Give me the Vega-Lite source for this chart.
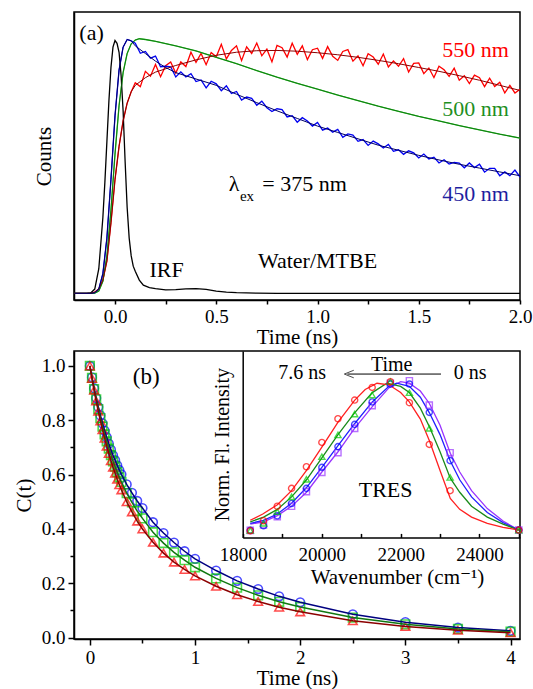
{
"$schema":"https://vega.github.io/schema/vega-lite/v6.json",
"background":"white",
"padding":{"left":12,"top":11,"right":0,"bottom":0},
"spacing":2,
"config":{
 "font":"Liberation Serif, Times New Roman, DejaVu Serif, serif",
 "view":{"stroke":"black","strokeWidth":1.5},
 "axis":{"labelFont":"Liberation Serif, Times New Roman, DejaVu Serif, serif","titleFont":"Liberation Serif, Times New Roman, DejaVu Serif, serif","labelFontSize":19,"titleFontSize":21,"titleFontWeight":"normal","labelColor":"black","titleColor":"black","domainColor":"black","domainWidth":1.5,"tickColor":"black","tickWidth":1.5,"grid":false,"labelPadding":3,"labelFlush":false,"labelOverlap":false},
 "text":{"font":"Liberation Serif, Times New Roman, DejaVu Serif, serif"}
},
"datasets":{
"a":[
{"s":"550","t":-0.2,"y":0.003},{"s":"550","t":-0.12,"y":0.003},{"s":"550","t":-0.1,"y":0.008},{"s":"550","t":-0.08,"y":0.02},{"s":"550","t":-0.06,"y":0.055},{"s":"550","t":-0.04,"y":0.13},{"s":"550","t":-0.02,"y":0.28},{"s":"550","t":0,"y":0.45},{"s":"550","t":0.02,"y":0.58},{"s":"550","t":0.04,"y":0.68},{"s":"550","t":0.06,"y":0.75},{"s":"550","t":0.08,"y":0.795},
{"s":"550","t":0.1,"y":0.83},{"s":"550","t":0.125,"y":0.815},{"s":"550","t":0.15,"y":0.875},{"s":"550","t":0.175,"y":0.856},{"s":"550","t":0.2,"y":0.902},{"s":"550","t":0.225,"y":0.854},{"s":"550","t":0.25,"y":0.897},{"s":"550","t":0.275,"y":0.912},{"s":"550","t":0.3,"y":0.868},{"s":"550","t":0.325,"y":0.912},{"s":"550","t":0.35,"y":0.894},{"s":"550","t":0.375,"y":0.95},{"s":"550","t":0.4,"y":0.91},{"s":"550","t":0.425,"y":0.945},{"s":"550","t":0.45,"y":0.901},{"s":"550","t":0.475,"y":0.949},{"s":"550","t":0.5,"y":0.932},{"s":"550","t":0.525,"y":0.981},{"s":"550","t":0.55,"y":0.924},{"s":"550","t":0.575,"y":0.957},{"s":"550","t":0.6,"y":0.975},{"s":"550","t":0.625,"y":0.917},{"s":"550","t":0.65,"y":0.971},{"s":"550","t":0.675,"y":0.945},{"s":"550","t":0.7,"y":0.986},{"s":"550","t":0.725,"y":0.936},{"s":"550","t":0.75,"y":0.962},{"s":"550","t":0.775,"y":0.912},{"s":"550","t":0.8,"y":0.977},{"s":"550","t":0.825,"y":0.968},{"s":"550","t":0.85,"y":0.931},{"s":"550","t":0.875,"y":0.985},{"s":"550","t":0.9,"y":0.942},{"s":"550","t":0.925,"y":0.975},{"s":"550","t":0.95,"y":0.921},{"s":"550","t":0.975,"y":0.96},{"s":"550","t":1.0,"y":0.966},{"s":"550","t":1.025,"y":0.926},{"s":"550","t":1.05,"y":0.972},{"s":"550","t":1.075,"y":0.934},{"s":"550","t":1.1,"y":0.918},{"s":"550","t":1.125,"y":0.953},{"s":"550","t":1.15,"y":0.96},{"s":"550","t":1.175,"y":0.915},{"s":"550","t":1.2,"y":0.936},{"s":"550","t":1.225,"y":0.897},{"s":"550","t":1.25,"y":0.944},{"s":"550","t":1.275,"y":0.931},{"s":"550","t":1.3,"y":0.903},{"s":"550","t":1.325,"y":0.943},{"s":"550","t":1.35,"y":0.892},{"s":"550","t":1.375,"y":0.916},{"s":"550","t":1.4,"y":0.895},{"s":"550","t":1.425,"y":0.925},{"s":"550","t":1.45,"y":0.872},{"s":"550","t":1.475,"y":0.906},{"s":"550","t":1.5,"y":0.908},{"s":"550","t":1.525,"y":0.866},{"s":"550","t":1.55,"y":0.888},{"s":"550","t":1.575,"y":0.851},{"s":"550","t":1.6,"y":0.895},{"s":"550","t":1.625,"y":0.881},{"s":"550","t":1.65,"y":0.855},{"s":"550","t":1.675,"y":0.887},{"s":"550","t":1.7,"y":0.84},{"s":"550","t":1.725,"y":0.858},{"s":"550","t":1.75,"y":0.827},{"s":"550","t":1.775,"y":0.86},{"s":"550","t":1.8,"y":0.85},{"s":"550","t":1.825,"y":0.815},{"s":"550","t":1.85,"y":0.848},{"s":"550","t":1.875,"y":0.815},{"s":"550","t":1.9,"y":0.832},{"s":"550","t":1.925,"y":0.79},{"s":"550","t":1.95,"y":0.82},{"s":"550","t":1.975,"y":0.79},{"s":"550","t":2.0,"y":0.805},
{"s":"500","t":-0.2,"y":0.003},{"s":"500","t":-0.12,"y":0.003},{"s":"500","t":-0.1,"y":0.004},{"s":"500","t":-0.08,"y":0.012},{"s":"500","t":-0.06,"y":0.05},{"s":"500","t":-0.04,"y":0.15},{"s":"500","t":-0.02,"y":0.33},{"s":"500","t":0,"y":0.55},{"s":"500","t":0.02,"y":0.74},{"s":"500","t":0.04,"y":0.87},{"s":"500","t":0.06,"y":0.945},{"s":"500","t":0.08,"y":0.983},{"s":"500","t":0.1,"y":0.998},{"s":"500","t":0.12,"y":1.003},{"s":"500","t":0.15,"y":1.0},{"s":"500","t":0.2,"y":0.993},{"s":"500","t":0.3,"y":0.975},{"s":"500","t":0.4,"y":0.955},{"s":"500","t":0.5,"y":0.93},{"s":"500","t":0.6,"y":0.905},{"s":"500","t":0.7,"y":0.878},{"s":"500","t":0.8,"y":0.852},{"s":"500","t":0.9,"y":0.828},{"s":"500","t":1.0,"y":0.805},{"s":"500","t":1.1,"y":0.782},{"s":"500","t":1.2,"y":0.76},{"s":"500","t":1.3,"y":0.738},{"s":"500","t":1.4,"y":0.718},{"s":"500","t":1.5,"y":0.698},{"s":"500","t":1.6,"y":0.68},{"s":"500","t":1.7,"y":0.662},{"s":"500","t":1.8,"y":0.645},{"s":"500","t":1.9,"y":0.628},{"s":"500","t":2.0,"y":0.613},
{"s":"450","t":-0.2,"y":0.003},{"s":"450","t":-0.12,"y":0.003},{"s":"450","t":-0.1,"y":0.006},{"s":"450","t":-0.08,"y":0.02},{"s":"450","t":-0.06,"y":0.08},{"s":"450","t":-0.04,"y":0.22},{"s":"450","t":-0.02,"y":0.45},{"s":"450","t":0,"y":0.7},{"s":"450","t":0.02,"y":0.88},{"s":"450","t":0.04,"y":0.97},{"s":"450","t":0.06,"y":1.0},{"s":"450","t":0.08,"y":0.995},
{"s":"450","t":0.1,"y":0.985},{"s":"450","t":0.125,"y":0.946},{"s":"450","t":0.15,"y":0.953},{"s":"450","t":0.175,"y":0.927},{"s":"450","t":0.2,"y":0.935},{"s":"450","t":0.225,"y":0.893},{"s":"450","t":0.25,"y":0.895},{"s":"450","t":0.275,"y":0.893},{"s":"450","t":0.3,"y":0.853},{"s":"450","t":0.325,"y":0.873},{"s":"450","t":0.35,"y":0.853},{"s":"450","t":0.375,"y":0.866},{"s":"450","t":0.4,"y":0.835},{"s":"450","t":0.425,"y":0.841},{"s":"450","t":0.45,"y":0.81},{"s":"450","t":0.475,"y":0.836},{"s":"450","t":0.5,"y":0.826},{"s":"450","t":0.525,"y":0.799},{"s":"450","t":0.55,"y":0.818},{"s":"450","t":0.575,"y":0.788},{"s":"450","t":0.6,"y":0.796},{"s":"450","t":0.625,"y":0.762},{"s":"450","t":0.65,"y":0.774},{"s":"450","t":0.675,"y":0.769},{"s":"450","t":0.7,"y":0.742},{"s":"450","t":0.725,"y":0.758},{"s":"450","t":0.75,"y":0.732},{"s":"450","t":0.775,"y":0.717},{"s":"450","t":0.8,"y":0.728},{"s":"450","t":0.825,"y":0.725},{"s":"450","t":0.85,"y":0.696},{"s":"450","t":0.875,"y":0.701},{"s":"450","t":0.9,"y":0.675},{"s":"450","t":0.925,"y":0.693},{"s":"450","t":0.95,"y":0.68},{"s":"450","t":0.975,"y":0.66},{"s":"450","t":1.0,"y":0.674},{"s":"450","t":1.025,"y":0.644},{"s":"450","t":1.05,"y":0.652},{"s":"450","t":1.075,"y":0.636},{"s":"450","t":1.1,"y":0.647},{"s":"450","t":1.125,"y":0.616},{"s":"450","t":1.15,"y":0.629},{"s":"450","t":1.175,"y":0.625},{"s":"450","t":1.2,"y":0.6},{"s":"450","t":1.225,"y":0.607},{"s":"450","t":1.25,"y":0.584},{"s":"450","t":1.275,"y":0.601},{"s":"450","t":1.3,"y":0.59},{"s":"450","t":1.325,"y":0.574},{"s":"450","t":1.35,"y":0.588},{"s":"450","t":1.375,"y":0.561},{"s":"450","t":1.4,"y":0.567},{"s":"450","t":1.425,"y":0.549},{"s":"450","t":1.45,"y":0.563},{"s":"450","t":1.475,"y":0.555},{"s":"450","t":1.5,"y":0.535},{"s":"450","t":1.525,"y":0.55},{"s":"450","t":1.55,"y":0.531},{"s":"450","t":1.575,"y":0.538},{"s":"450","t":1.6,"y":0.515},{"s":"450","t":1.625,"y":0.528},{"s":"450","t":1.65,"y":0.511},{"s":"450","t":1.675,"y":0.517},{"s":"450","t":1.7,"y":0.515},{"s":"450","t":1.725,"y":0.496},{"s":"450","t":1.75,"y":0.515},{"s":"450","t":1.775,"y":0.497},{"s":"450","t":1.8,"y":0.51},{"s":"450","t":1.825,"y":0.479},{"s":"450","t":1.85,"y":0.494},{"s":"450","t":1.875,"y":0.494},{"s":"450","t":1.9,"y":0.465},{"s":"450","t":1.925,"y":0.48},{"s":"450","t":1.95,"y":0.465},{"s":"450","t":1.975,"y":0.487},{"s":"450","t":2.0,"y":0.46},
{"s":"IRF","t":-0.2,"y":0.003},{"s":"IRF","t":-0.14,"y":0.003},{"s":"IRF","t":-0.12,"y":0.005},{"s":"IRF","t":-0.1,"y":0.02},{"s":"IRF","t":-0.08,"y":0.1},{"s":"IRF","t":-0.06,"y":0.3},{"s":"IRF","t":-0.05,"y":0.44},{"s":"IRF","t":-0.04,"y":0.6},{"s":"IRF","t":-0.03,"y":0.76},{"s":"IRF","t":-0.02,"y":0.89},{"s":"IRF","t":-0.01,"y":0.97},{"s":"IRF","t":0,"y":0.996},{"s":"IRF","t":0.01,"y":0.985},{"s":"IRF","t":0.02,"y":0.95},{"s":"IRF","t":0.03,"y":0.86},{"s":"IRF","t":0.04,"y":0.72},{"s":"IRF","t":0.05,"y":0.52},{"s":"IRF","t":0.06,"y":0.34},{"s":"IRF","t":0.07,"y":0.22},{"s":"IRF","t":0.08,"y":0.15},{"s":"IRF","t":0.09,"y":0.11},{"s":"IRF","t":0.1,"y":0.09},{"s":"IRF","t":0.12,"y":0.055},{"s":"IRF","t":0.14,"y":0.035},{"s":"IRF","t":0.17,"y":0.026},{"s":"IRF","t":0.2,"y":0.022},{"s":"IRF","t":0.25,"y":0.017},{"s":"IRF","t":0.3,"y":0.018},{"s":"IRF","t":0.35,"y":0.021},{"s":"IRF","t":0.4,"y":0.022},{"s":"IRF","t":0.45,"y":0.019},{"s":"IRF","t":0.5,"y":0.012},{"s":"IRF","t":0.55,"y":0.008},{"s":"IRF","t":0.6,"y":0.006},{"s":"IRF","t":0.7,"y":0.004},{"s":"IRF","t":0.8,"y":0.003},{"s":"IRF","t":1.2,"y":0.003},{"s":"IRF","t":1.6,"y":0.003},{"s":"IRF","t":2.0,"y":0.003}
],
"afit":[
{"s":"f550","t":-0.2,"y":0.003},{"s":"f550","t":-0.12,"y":0.003},{"s":"f550","t":-0.1,"y":0.008},{"s":"f550","t":-0.08,"y":0.02},{"s":"f550","t":-0.06,"y":0.055},{"s":"f550","t":-0.04,"y":0.13},{"s":"f550","t":-0.02,"y":0.28},{"s":"f550","t":0,"y":0.45},{"s":"f550","t":0.02,"y":0.58},{"s":"f550","t":0.04,"y":0.68},{"s":"f550","t":0.06,"y":0.75},{"s":"f550","t":0.08,"y":0.795},{"s":"f550","t":0.1,"y":0.82},{"s":"f550","t":0.15,"y":0.85},{"s":"f550","t":0.2,"y":0.872},{"s":"f550","t":0.3,"y":0.898},{"s":"f550","t":0.4,"y":0.92},{"s":"f550","t":0.5,"y":0.938},{"s":"f550","t":0.6,"y":0.95},{"s":"f550","t":0.7,"y":0.956},{"s":"f550","t":0.8,"y":0.957},{"s":"f550","t":0.9,"y":0.954},{"s":"f550","t":1.0,"y":0.948},{"s":"f550","t":1.1,"y":0.94},{"s":"f550","t":1.2,"y":0.93},{"s":"f550","t":1.3,"y":0.918},{"s":"f550","t":1.4,"y":0.905},{"s":"f550","t":1.5,"y":0.89},{"s":"f550","t":1.6,"y":0.875},{"s":"f550","t":1.7,"y":0.858},{"s":"f550","t":1.8,"y":0.84},{"s":"f550","t":1.9,"y":0.82},{"s":"f550","t":2.0,"y":0.8},
{"s":"f450","t":-0.2,"y":0.003},{"s":"f450","t":-0.12,"y":0.003},{"s":"f450","t":-0.1,"y":0.006},{"s":"f450","t":-0.08,"y":0.02},{"s":"f450","t":-0.06,"y":0.08},{"s":"f450","t":-0.04,"y":0.22},{"s":"f450","t":-0.02,"y":0.45},{"s":"f450","t":0,"y":0.7},{"s":"f450","t":0.02,"y":0.88},{"s":"f450","t":0.04,"y":0.97},{"s":"f450","t":0.06,"y":1.0},{"s":"f450","t":0.08,"y":0.995},{"s":"f450","t":0.1,"y":0.975},{"s":"f450","t":0.15,"y":0.945},{"s":"f450","t":0.2,"y":0.915},{"s":"f450","t":0.25,"y":0.89},{"s":"f450","t":0.3,"y":0.87},{"s":"f450","t":0.4,"y":0.845},{"s":"f450","t":0.5,"y":0.82},{"s":"f450","t":0.6,"y":0.785},{"s":"f450","t":0.7,"y":0.752},{"s":"f450","t":0.8,"y":0.72},{"s":"f450","t":0.9,"y":0.69},{"s":"f450","t":1.0,"y":0.66},{"s":"f450","t":1.1,"y":0.635},{"s":"f450","t":1.2,"y":0.61},{"s":"f450","t":1.3,"y":0.585},{"s":"f450","t":1.4,"y":0.565},{"s":"f450","t":1.5,"y":0.545},{"s":"f450","t":1.6,"y":0.527},{"s":"f450","t":1.7,"y":0.51},{"s":"f450","t":1.8,"y":0.495},{"s":"f450","t":1.9,"y":0.48},{"s":"f450","t":2.0,"y":0.465}
],
"b":[
{"s":"blue","t":0,"c":1.0},{"s":"blue","t":0.02,"c":0.958},{"s":"blue","t":0.04,"c":0.918},{"s":"blue","t":0.06,"c":0.882},{"s":"blue","t":0.08,"c":0.849},{"s":"blue","t":0.1,"c":0.818},{"s":"blue","t":0.12,"c":0.789},{"s":"blue","t":0.14,"c":0.762},{"s":"blue","t":0.16,"c":0.738},{"s":"blue","t":0.18,"c":0.714},{"s":"blue","t":0.2,"c":0.692},{"s":"blue","t":0.22,"c":0.671},{"s":"blue","t":0.24,"c":0.653},{"s":"blue","t":0.26,"c":0.634},{"s":"blue","t":0.28,"c":0.617},{"s":"blue","t":0.3,"c":0.601},{"s":"blue","t":0.35,"c":0.564},{"s":"blue","t":0.4,"c":0.533},{"s":"blue","t":0.45,"c":0.503},{"s":"blue","t":0.5,"c":0.477},{"s":"blue","t":0.6,"c":0.425},{"s":"blue","t":0.7,"c":0.385},{"s":"blue","t":0.8,"c":0.35},{"s":"blue","t":0.9,"c":0.318},{"s":"blue","t":1.0,"c":0.29},{"s":"blue","t":1.2,"c":0.247},{"s":"blue","t":1.4,"c":0.209},{"s":"blue","t":1.6,"c":0.179},{"s":"blue","t":1.8,"c":0.152},{"s":"blue","t":2.0,"c":0.13},{"s":"blue","t":2.5,"c":0.086},{"s":"blue","t":3.0,"c":0.057},{"s":"blue","t":3.5,"c":0.037},{"s":"blue","t":4.0,"c":0.025},
{"s":"green","t":0,"c":1.0},{"s":"green","t":0.02,"c":0.956},{"s":"green","t":0.04,"c":0.915},{"s":"green","t":0.06,"c":0.877},{"s":"green","t":0.08,"c":0.841},{"s":"green","t":0.1,"c":0.808},{"s":"green","t":0.12,"c":0.777},{"s":"green","t":0.14,"c":0.748},{"s":"green","t":0.16,"c":0.722},{"s":"green","t":0.18,"c":0.696},{"s":"green","t":0.2,"c":0.672},{"s":"green","t":0.22,"c":0.649},{"s":"green","t":0.24,"c":0.629},{"s":"green","t":0.26,"c":0.609},{"s":"green","t":0.28,"c":0.59},{"s":"green","t":0.3,"c":0.573},{"s":"green","t":0.35,"c":0.532},{"s":"green","t":0.4,"c":0.498},{"s":"green","t":0.45,"c":0.466},{"s":"green","t":0.5,"c":0.439},{"s":"green","t":0.6,"c":0.388},{"s":"green","t":0.7,"c":0.348},{"s":"green","t":0.8,"c":0.314},{"s":"green","t":0.9,"c":0.285},{"s":"green","t":1.0,"c":0.259},{"s":"green","t":1.2,"c":0.218},{"s":"green","t":1.4,"c":0.184},{"s":"green","t":1.6,"c":0.156},{"s":"green","t":1.8,"c":0.132},{"s":"green","t":2.0,"c":0.113},{"s":"green","t":2.5,"c":0.074},{"s":"green","t":3.0,"c":0.049},{"s":"green","t":3.5,"c":0.032},{"s":"green","t":4.0,"c":0.022},
{"s":"red","t":0,"c":1.0},{"s":"red","t":0.02,"c":0.954},{"s":"red","t":0.04,"c":0.911},{"s":"red","t":0.06,"c":0.871},{"s":"red","t":0.08,"c":0.833},{"s":"red","t":0.1,"c":0.798},{"s":"red","t":0.12,"c":0.765},{"s":"red","t":0.14,"c":0.734},{"s":"red","t":0.16,"c":0.705},{"s":"red","t":0.18,"c":0.678},{"s":"red","t":0.2,"c":0.651},{"s":"red","t":0.22,"c":0.627},{"s":"red","t":0.24,"c":0.605},{"s":"red","t":0.26,"c":0.583},{"s":"red","t":0.28,"c":0.563},{"s":"red","t":0.3,"c":0.544},{"s":"red","t":0.35,"c":0.5},{"s":"red","t":0.4,"c":0.463},{"s":"red","t":0.45,"c":0.429},{"s":"red","t":0.5,"c":0.4},{"s":"red","t":0.6,"c":0.351},{"s":"red","t":0.7,"c":0.311},{"s":"red","t":0.8,"c":0.278},{"s":"red","t":0.9,"c":0.251},{"s":"red","t":1.0,"c":0.227},{"s":"red","t":1.2,"c":0.189},{"s":"red","t":1.4,"c":0.158},{"s":"red","t":1.6,"c":0.133},{"s":"red","t":1.8,"c":0.112},{"s":"red","t":2.0,"c":0.095},{"s":"red","t":2.5,"c":0.062},{"s":"red","t":3.0,"c":0.041},{"s":"red","t":3.5,"c":0.027},{"s":"red","t":4.0,"c":0.018}
],
"ip":[
{"s":"p","w":18182,"n":0.045},{"s":"p","w":18519,"n":0.08},{"s":"p","w":18868,"n":0.133},{"s":"p","w":19231,"n":0.2},{"s":"p","w":19608,"n":0.294},{"s":"p","w":20000,"n":0.417},{"s":"p","w":20408,"n":0.544},{"s":"p","w":20833,"n":0.7},{"s":"p","w":21277,"n":0.846},{"s":"p","w":21739,"n":0.99},{"s":"p","w":22222,"n":1.006},{"s":"p","w":22727,"n":0.85},{"s":"p","w":23256,"n":0.544},{"s":"p","w":25000,"n":0.047},
{"s":"b","w":18182,"n":0.045},{"s":"b","w":18519,"n":0.075},{"s":"b","w":18868,"n":0.139},{"s":"b","w":19231,"n":0.218},{"s":"b","w":19608,"n":0.315},{"s":"b","w":20000,"n":0.45},{"s":"b","w":20408,"n":0.583},{"s":"b","w":20833,"n":0.726},{"s":"b","w":21277,"n":0.87},{"s":"b","w":21739,"n":0.985},{"s":"b","w":22222,"n":0.985},{"s":"b","w":22727,"n":0.803},{"s":"b","w":23256,"n":0.493},{"s":"b","w":25000,"n":0.047},
{"s":"g","w":18182,"n":0.045},{"s":"g","w":18519,"n":0.09},{"s":"g","w":18868,"n":0.165},{"s":"g","w":19231,"n":0.261},{"s":"g","w":19608,"n":0.373},{"s":"g","w":20000,"n":0.518},{"s":"g","w":20408,"n":0.658},{"s":"g","w":20833,"n":0.792},{"s":"g","w":21277,"n":0.914},{"s":"g","w":21739,"n":1.0},{"s":"g","w":22222,"n":0.929},{"s":"g","w":22727,"n":0.7},{"s":"g","w":23256,"n":0.385},{"s":"g","w":25000,"n":0.047},
{"s":"r","w":18182,"n":0.043},{"s":"r","w":18519,"n":0.107},{"s":"r","w":18868,"n":0.2},{"s":"r","w":19231,"n":0.315},{"s":"r","w":19608,"n":0.454},{"s":"r","w":20000,"n":0.61},{"s":"r","w":20408,"n":0.762},{"s":"r","w":20833,"n":0.882},{"s":"r","w":21277,"n":0.963},{"s":"r","w":21739,"n":1.0},{"s":"r","w":22222,"n":0.865},{"s":"r","w":22727,"n":0.597},{"s":"r","w":23256,"n":0.3},{"s":"r","w":25000,"n":0.047}
],
"if":[
{"s":"p","w":18182,"n":0.085},{"s":"p","w":18520,"n":0.1},{"s":"p","w":18870,"n":0.14},{"s":"p","w":19230,"n":0.2},{"s":"p","w":19610,"n":0.29},{"s":"p","w":20000,"n":0.42},{"s":"p","w":20410,"n":0.55},{"s":"p","w":20830,"n":0.7},{"s":"p","w":21280,"n":0.84},{"s":"p","w":21700,"n":0.96},{"s":"p","w":22000,"n":1.0},{"s":"p","w":22220,"n":0.99},{"s":"p","w":22500,"n":0.94},{"s":"p","w":22730,"n":0.86},{"s":"p","w":23000,"n":0.72},{"s":"p","w":23260,"n":0.54},{"s":"p","w":23500,"n":0.42},{"s":"p","w":23800,"n":0.3},{"s":"p","w":24200,"n":0.185},{"s":"p","w":24600,"n":0.105},{"s":"p","w":25000,"n":0.047},
{"s":"b","w":18182,"n":0.09},{"s":"b","w":18520,"n":0.11},{"s":"b","w":18870,"n":0.15},{"s":"b","w":19230,"n":0.22},{"s":"b","w":19610,"n":0.32},{"s":"b","w":20000,"n":0.45},{"s":"b","w":20410,"n":0.59},{"s":"b","w":20830,"n":0.73},{"s":"b","w":21280,"n":0.87},{"s":"b","w":21700,"n":0.97},{"s":"b","w":21900,"n":0.99},{"s":"b","w":22220,"n":0.97},{"s":"b","w":22500,"n":0.9},{"s":"b","w":22730,"n":0.8},{"s":"b","w":23000,"n":0.66},{"s":"b","w":23260,"n":0.49},{"s":"b","w":23500,"n":0.37},{"s":"b","w":23800,"n":0.26},{"s":"b","w":24200,"n":0.16},{"s":"b","w":24600,"n":0.095},{"s":"b","w":25000,"n":0.047},
{"s":"g","w":18182,"n":0.1},{"s":"g","w":18520,"n":0.13},{"s":"g","w":18870,"n":0.18},{"s":"g","w":19230,"n":0.26},{"s":"g","w":19610,"n":0.37},{"s":"g","w":20000,"n":0.51},{"s":"g","w":20410,"n":0.66},{"s":"g","w":20830,"n":0.8},{"s":"g","w":21280,"n":0.93},{"s":"g","w":21650,"n":0.99},{"s":"g","w":22000,"n":0.97},{"s":"g","w":22220,"n":0.93},{"s":"g","w":22500,"n":0.83},{"s":"g","w":22730,"n":0.71},{"s":"g","w":23000,"n":0.55},{"s":"g","w":23260,"n":0.38},{"s":"g","w":23500,"n":0.29},{"s":"g","w":23800,"n":0.2},{"s":"g","w":24200,"n":0.13},{"s":"g","w":24600,"n":0.085},{"s":"g","w":25000,"n":0.047},
{"s":"r","w":18182,"n":0.11},{"s":"r","w":18500,"n":0.15},{"s":"r","w":18870,"n":0.21},{"s":"r","w":19230,"n":0.3},{"s":"r","w":19610,"n":0.43},{"s":"r","w":20000,"n":0.58},{"s":"r","w":20410,"n":0.74},{"s":"r","w":20830,"n":0.88},{"s":"r","w":21100,"n":0.95},{"s":"r","w":21400,"n":0.99},{"s":"r","w":21700,"n":0.98},{"s":"r","w":22000,"n":0.93},{"s":"r","w":22220,"n":0.87},{"s":"r","w":22500,"n":0.76},{"s":"r","w":22730,"n":0.62},{"s":"r","w":23000,"n":0.43},{"s":"r","w":23260,"n":0.25},{"s":"r","w":23500,"n":0.18},{"s":"r","w":23800,"n":0.13},{"s":"r","w":24200,"n":0.09},{"s":"r","w":24600,"n":0.065},{"s":"r","w":25000,"n":0.047}
]
},
"vconcat":[
{
 "width":446,"height":288,
 "encoding":{
  "x":{"field":"t","type":"quantitative","scale":{"domain":[-0.2025,2.0],"nice":false,"zero":false},"axis":{"values":[0,0.25,0.5,0.75,1,1.25,1.5,1.75,2],"labelExpr":"(datum.value*2)%1===0 ? format(datum.value,'.1f') : ''","tickSize":4,"title":"Time (ns)","titlePadding":0}},
  "y":{"field":"y","type":"quantitative","scale":{"domain":[-0.023,1.108],"nice":false,"zero":false},"axis":{"ticks":false,"labels":false,"title":"Counts","titlePadding":20}}
 },
 "layer":[
  {"data":{"name":"a"},"mark":{"type":"line","strokeWidth":1.3},
   "encoding":{"color":{"field":"s","type":"nominal","legend":null,"scale":{"domain":["550","500","450","IRF","f550","f450"],"range":["#ff0000","#22c022","#0000f0","#000000","#8b0000","#000066"]}}}},
  {"data":{"name":"a"},"transform":[{"filter":"datum.s==='500'"}],"mark":{"type":"line","strokeWidth":0.8,"color":"#0b6b0b"}},
  {"data":{"name":"afit"},"mark":{"type":"line","strokeWidth":1},
   "encoding":{"color":{"field":"s","type":"nominal","legend":null,"scale":{"domain":["550","500","450","IRF","f550","f450"],"range":["#ff0000","#22c022","#0000f0","#000000","#8b0000","#000066"]}}}},
  {"data":{"values":[
    {"label":"(a)","t":-0.116,"y":1.027},
    {"label":"550 nm","t":1.78,"y":0.958},
    {"label":"500 nm","t":1.78,"y":0.726},
    {"label":"450 nm","t":1.78,"y":0.393},
    {"label":"λ","t":0.588,"y":0.4345},
    {"label":"= 375 nm","t":0.936,"y":0.4345},
    {"label":"IRF","t":0.255,"y":0.095},
    {"label":"Water/MTBE","t":1.0,"y":0.131}
   ]},
   "mark":{"type":"text","fontSize":22,"baseline":"middle","align":"center"},
   "encoding":{"text":{"field":"label"},
    "fill":{"field":"label","type":"nominal","legend":null,"scale":{"domain":["(a)","550 nm","500 nm","450 nm","λ","= 375 nm","IRF","Water/MTBE"],"range":["#000000","#ff0000","#1f8f1f","#1f1fa0","#000000","#000000","#000000","#000000"]}}}},
  {"data":{"values":[{"label":"ex","t":0.652,"y":0.386}]},
   "mark":{"type":"text","fontSize":15,"baseline":"middle","align":"center","color":"black"},
   "encoding":{"text":{"field":"label"}}}
 ]
},
{
 "width":446,"height":288,
 "layer":[
  {
   "encoding":{
    "x":{"field":"t","type":"quantitative","scale":{"domain":[-0.151,4.09],"nice":false,"zero":false},"axis":{"orient":"bottom","values":[0,0.5,1,1.5,2,2.5,3,3.5,4],"labelExpr":"datum.value%1===0 ? format(datum.value,'d') : ''","tickSize":{"condition":{"test":"datum.value%1===0","value":6},"value":4},"title":"Time (ns)","titlePadding":0}},
    "y":{"field":"c","type":"quantitative","scale":{"domain":[-0.005,1.055],"nice":false,"zero":false},"axis":{"orient":"left","values":[0,0.1,0.2,0.3,0.4,0.5,0.6,0.7,0.8,0.9,1],"labelExpr":"round(datum.value*10)%2===0 ? format(datum.value,'.1f') : ''","tickSize":{"condition":{"test":"round(datum.value*10)%2===0","value":6},"value":4},"title":"C(t)","titlePadding":7}}
   },
   "layer":[
    {"data":{"name":"b"},"mark":{"type":"point","filled":false,"strokeWidth":1.6,"size":75},
     "encoding":{"color":{"field":"s","type":"nominal","legend":null,"scale":{"domain":["blue","green","red"],"range":["#0000ff","#00cc00","#ff0000"]}},
      "shape":{"field":"s","type":"nominal","legend":null,"scale":{"domain":["blue","green","red"],"range":["circle","square","triangle-up"]}}}},
    {"data":{"name":"b"},"mark":{"type":"line","strokeWidth":1.5},
     "encoding":{"stroke":{"field":"s","type":"nominal","legend":null,"scale":{"domain":["blue","green","red"],"range":["#000080","#117711","#8b0000"]}}}},
    {"data":{"values":[{"label":"(b)","t":0.535,"c":0.961}]},
     "mark":{"type":"text","fontSize":23,"baseline":"middle","align":"center","color":"black"},
     "encoding":{"text":{"field":"label"}}}
   ]
  },
  {
   "encoding":{
    "x":{"field":"w","type":"quantitative","scale":{"domain":[17990,25030],"range":[168.7,446],"nice":false,"zero":false},"axis":{"orient":"bottom","offset":-101.6,"values":[18000,19000,20000,21000,22000,23000,24000,25000],"labelExpr":"(datum.value%2000===0 && datum.value<25000) ? format(datum.value,'d') : ''","tickSize":-4,"labelPadding":12,"title":"Wavenumber (cm⁻¹)","titlePadding":2,"titleX":323}},
    "y":{"field":"n","type":"quantitative","scale":{"domain":[0,1.197],"range":[186.4,0],"nice":false,"zero":false},"axis":{"orient":"left","offset":-168.7,"ticks":false,"labels":false,"title":"Norm. Fl. Intensity","titlePadding":10,"titleFontSize":20}}
   },
   "layer":[
    {"data":{"name":"if"},"mark":{"type":"line","strokeWidth":1.3},
     "encoding":{"stroke":{"field":"s","type":"nominal","legend":null,"scale":{"domain":["p","b","g","r"],"range":["#9933ff","#2020ff","#1a8a1a","#ff2020"]}}}},
    {"data":{"name":"ip"},"mark":{"type":"point","filled":false,"strokeWidth":1.4,"size":38},
     "encoding":{"color":{"field":"s","type":"nominal","legend":null,"scale":{"domain":["p","b","g","r"],"range":["#9933ff","#0000ff","#00cc00","#ff0000"]}},
      "shape":{"field":"s","type":"nominal","legend":null,"scale":{"domain":["p","b","g","r"],"range":["square","circle","triangle-up","circle"]}}}},
    {"data":{"values":[
      {"label":"7.6 ns","w":19499,"n":1.053},
      {"label":"Time","w":21772,"n":1.109},
      {"label":"0 ns","w":23764,"n":1.053}
     ]},
     "mark":{"type":"text","fontSize":20,"baseline":"middle","align":"center","color":"black"},
     "encoding":{"text":{"field":"label"}}},
    {"data":{"values":[{"label":"TRES","w":21619,"n":0.306}]},
     "mark":{"type":"text","fontSize":22,"baseline":"middle","align":"center","color":"black"},
     "encoding":{"text":{"field":"label"}}},
    {"data":{"values":[{"w":20648,"w2":23024,"n":1.049}]},
     "mark":{"type":"rule","color":"black","strokeWidth":1},
     "encoding":{"x2":{"field":"w2"}}},
    {"data":{"values":[{"w":20690,"n":1.049}]},
     "mark":{"type":"point","shape":"M1,-0.8L-1,0L1,0.8","filled":false,"color":"black","strokeWidth":1,"size":90},
     "encoding":{}}
   ]
  }
 ],
 "resolve":{"scale":{"x":"independent","y":"independent","color":"independent","stroke":"independent","shape":"independent"},"axis":{"x":"independent","y":"independent"}}
}
]
}
